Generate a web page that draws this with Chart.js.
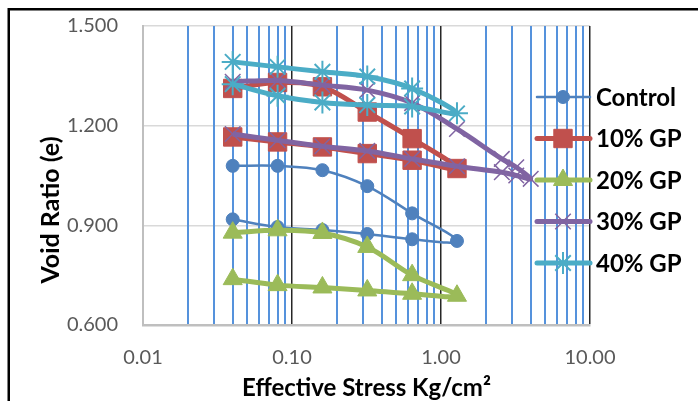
<!DOCTYPE html>
<html>
<head>
<meta charset="utf-8">
<script src="https://cdn.jsdelivr.net/npm/chart.js@4/dist/chart.umd.min.js"></script>
<style>
  html, body { margin: 0; padding: 0; background: #fff; }
  #wrap { position: relative; width: 698px; height: 401px; }
</style>
</head>
<body>
<div id="wrap"><canvas id="c"></canvas></div>
<script>
// Stress steps in kg/cm²: loading up to the peak, then unloading back down
const stressStd = [0.04, 0.08, 0.16, 0.32, 0.64, 1.28, 0.64, 0.32, 0.16, 0.08, 0.04];
const stress30  = [0.04, 0.08, 0.16, 0.32, 0.64, 1.28, 2.56, 3.2, 4.0, 3.2, 2.56, 1.28, 0.64, 0.32, 0.16, 0.08, 0.04];

// Void ratio (e) at each step
const voidControl = [1.079, 1.079, 1.066, 1.018, 0.936, 0.853, 0.858, 0.874, 0.886, 0.895, 0.918];
const voidGP10    = [1.312, 1.330, 1.317, 1.241, 1.161, 1.071, 1.096, 1.116, 1.136, 1.151, 1.166];
const voidGP20    = [0.878, 0.885, 0.877, 0.835, 0.750, 0.688, 0.694, 0.704, 0.713, 0.720, 0.738];
const voidGP30    = [1.332, 1.336, 1.322, 1.307, 1.268, 1.190, 1.100, 1.075, 1.040, 1.050, 1.060, 1.078, 1.100, 1.124, 1.138, 1.156, 1.175];
const voidGP40    = [1.392, 1.377, 1.362, 1.348, 1.312, 1.237, 1.258, 1.262, 1.270, 1.290, 1.325];

const seriesNames = ['Control', '10% GP', '20% GP', '30% GP', '40% GP'];

// Log-axis grid positions and the decade labels
const xGridValues = [0.01, 0.02, 0.03, 0.04, 0.05, 0.06, 0.07, 0.08, 0.09,
                     0.1, 0.2, 0.3, 0.4, 0.5, 0.6, 0.7, 0.8, 0.9,
                     1, 2, 3, 4, 5, 6, 7, 8, 9, 10];
const xDecades = [0.01, 0.1, 1, 10];
const xDecadeLabels = ['0.01', '0.10', '1.00', '10.00'];
const yTickValues = [0.6, 0.9, 1.2, 1.5];

const FONT = 'Lato, "Open Sans", "DejaVu Sans", sans-serif';

function zip(xs, ys) { return xs.map((x, i) => ({ x: x, y: ys[i] })); }
function decadeIndex(v) { return xDecades.findIndex(d => Math.abs(d - v) < d * 1e-6); }

const styles = [
  { color: '#4F81BD', width: 2.5, point: 'circle',   radius: 6.5, pbw: 1 },
  { color: '#C0504D', width: 5,   point: 'rect',     radius: 13,  pbw: 1 },
  { color: '#9BBB59', width: 5,   point: 'triangle', radius: 11,  pbw: 1 },
  { color: '#8064A2', width: 5,   point: 'crossRot', radius: 11,  pbw: 1.5 },
  { color: '#4BACC6', width: 5,   point: 'star',     radius: 11,  pbw: 2 }
];
const seriesData = [
  zip(stressStd, voidControl),
  zip(stressStd, voidGP10),
  zip(stressStd, voidGP20),
  zip(stress30, voidGP30),
  zip(stressStd, voidGP40)
];

const datasets = seriesNames.map((name, i) => ({
  label: name,
  data: seriesData[i],
  borderColor: styles[i].color,
  backgroundColor: styles[i].color,
  borderWidth: styles[i].width,
  pointStyle: styles[i].point,
  pointRadius: styles[i].radius,
  pointHoverRadius: styles[i].radius,
  pointBorderWidth: styles[i].pbw,
  pointBackgroundColor: styles[i].color,
  pointBorderColor: styles[i].color,
  tension: 0.35,
  order: seriesNames.length - i,
  clip: false
}));

// Frame, axis titles and the line+marker legend
const decorations = {
  id: 'decorations',
  beforeDraw(chart) {
    const ctx = chart.ctx;
    ctx.save();
    ctx.fillStyle = '#ffffff';
    ctx.fillRect(0, 0, chart.width, chart.height);
    ctx.restore();
  },
  afterDraw(chart) {
    const ctx = chart.ctx;
    const area = chart.chartArea;
    ctx.save();
    // outer frame (left and top edges)
    ctx.strokeStyle = '#000';
    ctx.lineWidth = 2.5;
    ctx.beginPath();
    ctx.moveTo(8.75, chart.height + 2);
    ctx.lineTo(8.75, 9.25);
    ctx.lineTo(chart.width + 2, 9.25);
    ctx.stroke();

    // axis titles
    ctx.fillStyle = '#000';
    ctx.textAlign = 'center';
    ctx.textBaseline = 'middle';
    ctx.font = 'bold 24px ' + FONT;
    ctx.fillText('Effective Stress Kg/cm²', (area.left + area.right) / 2, 388);
    ctx.save();
    ctx.translate(51, 210);
    ctx.rotate(-Math.PI / 2);
    ctx.font = 'bold 25px ' + FONT;
    ctx.fillText('Void Ratio (e)', 0, 0);
    ctx.restore();

    // legend
    const x0 = 537, x1 = 590, xm = 563, xt = 596;
    ctx.font = 'bold 24px ' + FONT;
    ctx.textAlign = 'left';
    chart.data.datasets.forEach((ds, i) => {
      const y = 97 + i * 41.5;
      ctx.strokeStyle = ds.borderColor;
      ctx.lineWidth = ds.borderWidth;
      ctx.lineCap = 'round';
      ctx.beginPath();
      ctx.moveTo(x0, y);
      ctx.lineTo(x1, y);
      ctx.stroke();
      ctx.lineCap = 'butt';
      ctx.fillStyle = ds.backgroundColor;
      ctx.strokeStyle = ds.borderColor;
      ctx.lineWidth = ds.pointBorderWidth;
      Chart.helpers.drawPoint(ctx, {
        pointStyle: ds.pointStyle,
        radius: ds.pointRadius,
        rotation: 0,
        borderWidth: ds.pointBorderWidth
      }, xm, y);
      ctx.fillStyle = '#000';
      ctx.fillText(ds.label, xt, y + 1);
    });
    ctx.restore();
  }
};

new Chart(document.getElementById('c'), {
  type: 'line',
  data: { datasets: datasets },
  options: {
    responsive: true,
    maintainAspectRatio: false,
    devicePixelRatio: 1,
    animation: false,
    events: [],
    layout: { padding: { top: 26, right: 108, left: 0, bottom: 0 } },
    plugins: {
      legend: { display: false },
      tooltip: { enabled: false },
      title: { display: false }
    },
    scales: {
      y: {
        type: 'linear',
        min: 0.6,
        max: 1.5,
        afterBuildTicks(scale) { scale.ticks = yTickValues.map(v => ({ value: v })); },
        afterFit(scale) {
          scale.width = 143;
          scale.paddingTop = 0;
          scale.paddingBottom = 0;
        },
        ticks: {
          padding: 25,
          color: '#595959',
          font: { family: FONT, size: 20 },
          callback: v => Number(v).toFixed(3)
        },
        grid: { color: '#d9d9d9', lineWidth: 1.5, drawTicks: false },
        border: { color: '#bfbfbf', width: 2 }
      },
      x: {
        type: 'logarithmic',
        min: 0.01,
        max: 10,
        afterBuildTicks(scale) { scale.ticks = xGridValues.map(v => ({ value: v })); },
        afterFit(scale) {
          scale.height = 76;
          scale.paddingLeft = 0;
          scale.paddingRight = 0;
        },
        ticks: {
          padding: 21,
          color: '#595959',
          font: { family: FONT, size: 20 },
          autoSkip: false,
          maxRotation: 0,
          callback: v => { const k = decadeIndex(v); return k >= 0 ? xDecadeLabels[k] : ''; }
        },
        grid: {
          drawTicks: false,
          lineWidth: ctx => (ctx.tick && decadeIndex(ctx.tick.value) >= 0 ? 1.5 : 2),
          color: ctx => {
            if (!ctx.tick) return '#5592DC';
            const k = decadeIndex(ctx.tick.value);
            if (k === 0) return '#bfbfbf';
            return k > 0 ? '#262626' : '#5592DC';
          }
        },
        border: { color: '#bfbfbf', width: 2.5 }
      }
    }
  },
  plugins: [decorations]
});
</script>
</body>
</html>
